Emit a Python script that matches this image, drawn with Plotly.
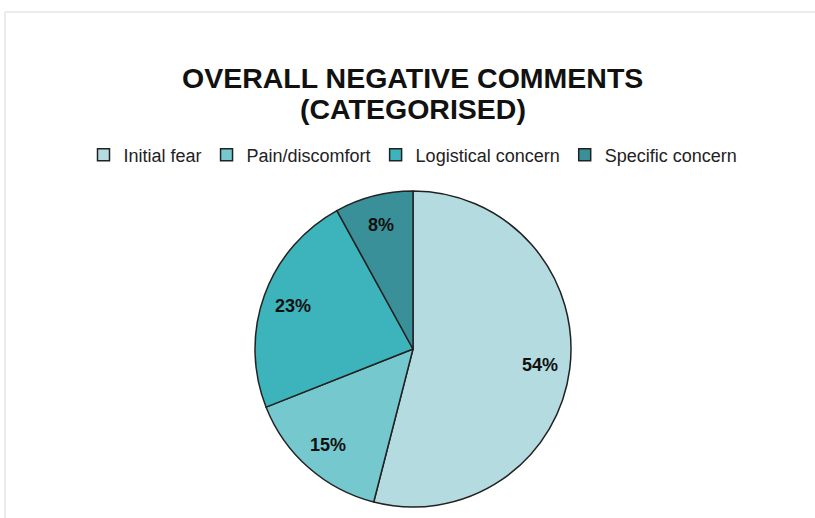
import math
import plotly.graph_objects as go

# Negative comments grouped by category (share of all negative comments, %)
categories = ["Initial fear", "Pain/discomfort", "Logistical concern", "Specific concern"]
shares = [54, 15, 23, 8]
slice_colors = ["#b3dbe0", "#76c8cf", "#3db3bb", "#3a9098"]
title_lines = ["OVERALL NEGATIVE COMMENTS", "(CATEGORISED)"]

W, H = 815, 518
FONT = "Liberation Sans, Arial, sans-serif"

# pie placement in pixels (centre and radius)
cx_px, cy_px, r_px = 413, 349, 158
label_r_px = 0.81 * r_px

fig = go.Figure(
    go.Pie(
        labels=categories,
        values=shares,
        sort=False,
        direction="clockwise",
        rotation=0,
        marker=dict(colors=slice_colors, line=dict(color="#222222", width=1.5)),
        textinfo="none",
        domain=dict(
            x=[(cx_px - r_px) / W, (cx_px + r_px) / W],
            y=[1 - (cy_px + r_px) / H, 1 - (cy_px - r_px) / H],
        ),
        hoverinfo="label+percent",
    )
)

# percentage labels placed at the middle angle of each slice
annotations = []
total = sum(shares)
cum = 0
for v in shares:
    mid = (cum + v / 2) / total * 2 * math.pi  # clockwise from 12 o'clock
    cum += v
    dx = label_r_px * math.sin(mid)
    dy = label_r_px * math.cos(mid)
    annotations.append(
        dict(
            x=(cx_px + dx) / W,
            y=1 - (cy_px - dy) / H,
            xref="paper",
            yref="paper",
            text=f"<b>{round(v / total * 100)}%</b>",
            showarrow=False,
            xanchor="center",
            yanchor="middle",
            font=dict(family=FONT, size=18, color="#111111"),
        )
    )

# two-line bold title
for line, y_px in zip(title_lines, [78, 109]):
    annotations.append(
        dict(
            x=cx_px / W,
            y=1 - y_px / H,
            xref="paper",
            yref="paper",
            text=f"<b>{line}</b>",
            showarrow=False,
            xanchor="center",
            yanchor="middle",
            font=dict(family=FONT, size=28.5, color="#111111"),
        )
    )

fig.update_layout(
    width=W,
    height=H,
    margin=dict(l=0, r=0, t=0, b=0),
    paper_bgcolor="white",
    plot_bgcolor="white",
    annotations=annotations,
    legend=dict(
        orientation="h",
        x=cx_px / W,
        xanchor="center",
        y=1 - 155 / H,
        yanchor="middle",
        font=dict(family=FONT, size=18, color="#222222"),
        itemwidth=30,
        traceorder="normal",
    ),
    shapes=[
        dict(
            type="rect",
            xref="paper",
            yref="paper",
            x0=5 / W,
            x1=1.2,
            y0=-0.2,
            y1=1 - 12 / H,
            line=dict(color="#d9d9d9", width=1),
            fillcolor="rgba(0,0,0,0)",
            layer="below",
        )
    ],
)

fig.write_html("out.html")
